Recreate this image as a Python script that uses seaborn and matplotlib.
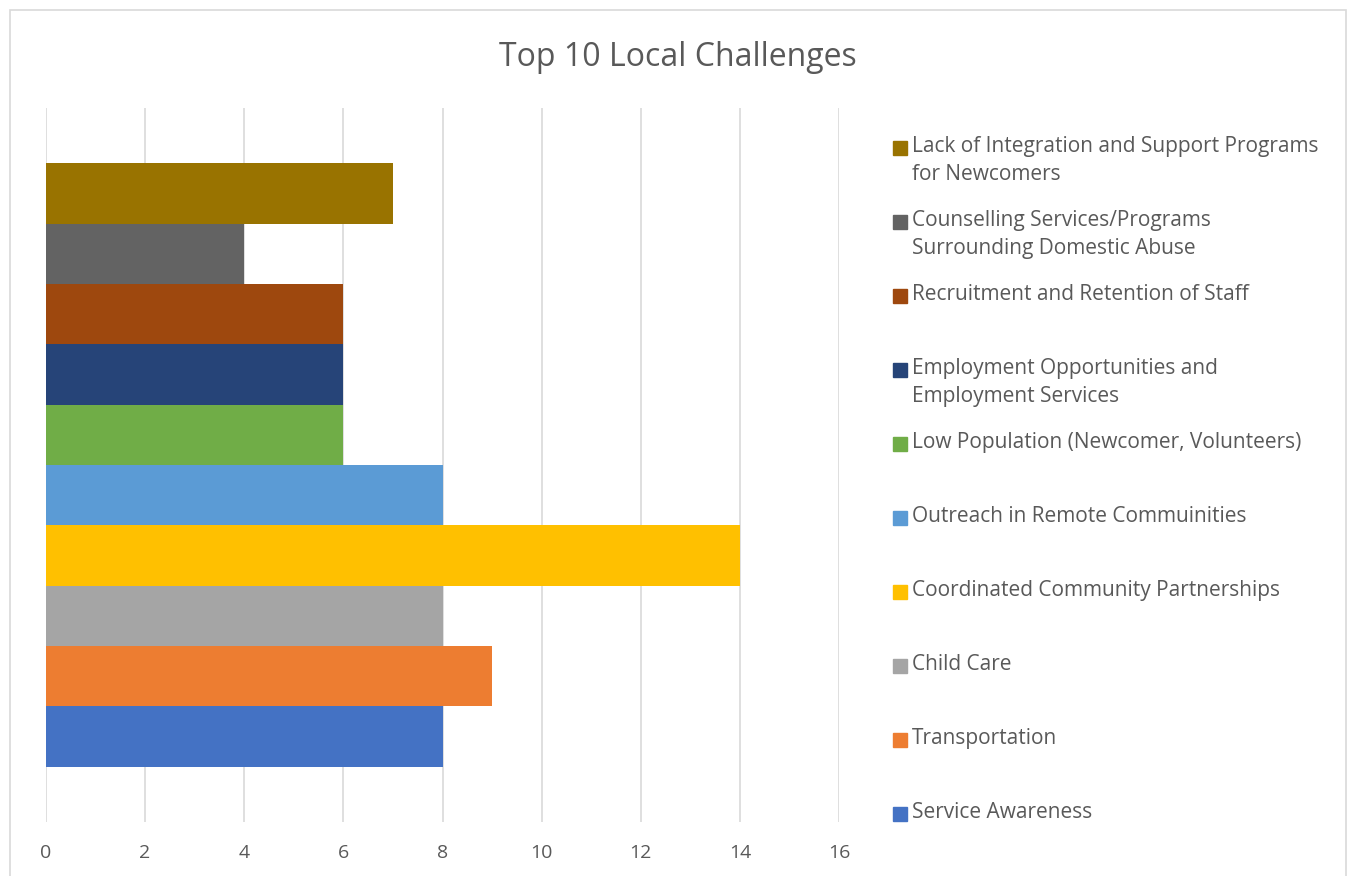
import matplotlib
matplotlib.use("Agg")
import matplotlib.pyplot as plt
import matplotlib.patches as mpatches
import seaborn as sns
import pandas as pd

# series, listed bottom to top as in the chart
names = [
    "Service Awareness",
    "Transportation",
    "Child Care",
    "Coordinated Community Partnerships",
    "Outreach in Remote Commuinities",
    "Low Population (Newcomer, Volunteers)",
    "Employment Opportunities and\nEmployment Services",
    "Recruitment and Retention of Staff",
    "Counselling Services/Programs\nSurrounding Domestic Abuse",
    "Lack of Integration and Support Programs\nfor Newcomers",
]
values = [8, 9, 8, 14, 8, 6, 6, 6, 4, 7]
colors = ["#4472C4", "#ED7D31", "#A5A5A5", "#FFC000", "#5B9BD5",
          "#70AD47", "#264478", "#9E480E", "#636363", "#997300"]
xticks = [0, 2, 4, 6, 8, 10, 12, 14, 16]

df = pd.DataFrame({"name": names, "value": values})
order = names[::-1]  # top bar first

sns.set_style("white")
plt.rcParams["font.family"] = ["Open Sans", "DejaVu Sans"]
text_color = "#595959"

fig = plt.figure(figsize=(13.51, 8.76), dpi=100)
ax = fig.add_axes([46 / 1351, 1 - 822 / 876, (839 - 46) / 1351, (822 - 108) / 876])

sns.barplot(data=df, x="value", y="name", hue="name", order=order,
            palette=dict(zip(names, colors)), width=1, saturation=1,
            legend=False, ax=ax, zorder=3, linewidth=0)

ax.set_xlim(0, 16)
ax.set_ylim(9.5 + 0.92, -0.5 - 0.92)
ax.set_xticks(xticks)
ax.set_xticklabels([str(t) for t in xticks], color=text_color, fontsize=14)
ax.tick_params(axis="x", length=0, pad=16)
ax.set_yticks([])
ax.set_xlabel("")
ax.set_ylabel("")
ax.grid(axis="x", color="#d9d9d9", linewidth=1.2, zorder=0)
ax.set_axisbelow(True)
for s in ax.spines.values():
    s.set_visible(False)

fig.text(678 / 1351, 1 - 57 / 876, "Top 10 Local Challenges",
         ha="center", va="center", fontsize=23, color=text_color)

# legend, evenly spaced entries like Excel
for i, (n, c) in enumerate(zip(names[::-1], colors[::-1])):
    ypix = 148 + 74 * i
    fig.patches.append(mpatches.Rectangle((893 / 1351, 1 - (ypix + 7) / 876),
                                          14 / 1351, 14 / 876, color=c,
                                          transform=fig.transFigure, figure=fig))
    fig.text(912 / 1351, 1 - (ypix - 12) / 876, n, ha="left", va="top",
             fontsize=15, color=text_color, linespacing=1.45)

# chart border
fig.patches.append(mpatches.Rectangle((10 / 1351, -0.05), 1336 / 1351, 1.05 - 10 / 876,
                                      fill=False, edgecolor="#d9d9d9", linewidth=1.2,
                                      transform=fig.transFigure, figure=fig))

fig.savefig("out.png", dpi=100)
